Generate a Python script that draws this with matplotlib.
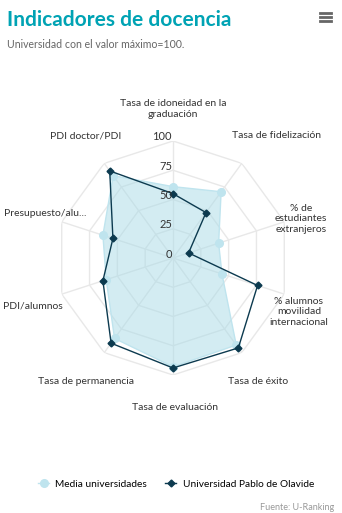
import numpy as np
import matplotlib.pyplot as plt
from matplotlib.lines import Line2D
from matplotlib.transforms import offset_copy

# Datos del grafico radar
categorias = ['Tasa de idoneidad en la\ngraduación', 'Tasa de fidelización',
              '% de\nestudiantes\nextranjeros', '% alumnos\nmovilidad\ninternacional',
              'Tasa de éxito', 'Tasa de evaluación', 'Tasa de permanencia',
              'PDI/alumnos', 'Presupuesto/alu...', 'PDI doctor/PDI']
media = [61, 70, 41, 44, 92, 93, 85, 60, 63, 87]
olavide = [55, 48, 14, 76, 95, 94, 90, 63, 54, 92]
niveles = [0, 25, 50, 75, 100]

# posiciones de las etiquetas (pixeles)
pos_etiquetas = [(173, 109), (276, 136), (301, 219), (299, 312), (258, 381),
                 (175, 408), (86, 381), (33, 306), (45, 213), (86, 136)]

W, H = 342, 513
fig = plt.figure(figsize=(W / 100, H / 100), dpi=100)
fuente = 'Lato'

cx, cy, R = 173, 258, 117
ax = fig.add_axes([(cx - R) / W, (H - cy - R) / H, 2 * R / W, 2 * R / H], projection='polar')
ax.set_theta_zero_location('N')
ax.set_theta_direction(-1)
ax.set_ylim(0, 100)
ax.grid(False)
ax.spines['polar'].set_visible(False)
ax.set_xticks([])
ax.set_yticks([])
ax.patch.set_alpha(0)

n = len(categorias)
theta = np.linspace(0, 2 * np.pi, n, endpoint=False)
theta_c = np.append(theta, theta[0])

# rejilla poligonal
gris = '#e8e8e8'
for r in niveles[1:]:
    ax.plot(theta_c, [r] * (n + 1), color=gris, lw=1, zorder=1)
for t in theta:
    ax.plot([t, t], [0, 100], color=gris, lw=1, zorder=1)

# series
claro = '#bfe4ee'
oscuro = '#0c3a4f'
m = np.append(media, media[0])
o = np.append(olavide, olavide[0])
ax.fill(theta_c, m, color='#a9dbe7', alpha=0.5, lw=0, zorder=2)
ax.plot(theta_c, m, color=claro, lw=1, zorder=3)
ax.plot(theta, media, 'o', color=claro, ms=5.5, zorder=3)
ax.plot(theta_c, o, color=oscuro, lw=1, zorder=4)
ax.plot(theta, olavide, 'D', color=oscuro, ms=3.5, zorder=5)

# etiquetas del eje radial
tr = offset_copy(ax.transData, fig=fig, x=-1, y=4, units='dots')
for r in niveles:
    ax.text(0, r, str(r), transform=tr, ha='right', va='center',
            fontsize=8, color='#333333', family=fuente, zorder=6)

# etiquetas de categorias
for lab, (x, y) in zip(categorias, pos_etiquetas):
    fig.text(x / W, 1 - y / H, lab, ha='center', va='center', fontsize=7.5,
             color='#333333', family=fuente, linespacing=1.25)

# titulo y subtitulo
fig.text(7 / W, 1 - 20 / H, 'Indicadores de docencia', fontsize=15, fontweight='bold',
         color='#00a3b4', family=fuente, va='center')
fig.text(7 / W, 1 - 45 / H, 'Universidad con el valor máximo=100.', fontsize=7.6,
         color='#666666', family=fuente, va='center')

# icono de menu
for yy in (13, 17, 21):
    fig.add_artist(Line2D([320 / W, 331 / W], [1 - yy / H] * 2, color='#666666', lw=2))

# leyenda
h1 = Line2D([], [], color=claro, lw=1, marker='o', ms=5.5)
h2 = Line2D([], [], color=oscuro, lw=1, marker='D', ms=3.5)
fig.legend([h1, h2], ['Media universidades', 'Universidad Pablo de Olavide'],
           loc='center', bbox_to_anchor=(176 / W, 1 - 484 / H), ncol=2, frameon=False,
           prop={'family': fuente, 'size': 7.3}, handlelength=1.1, handletextpad=0.6,
           columnspacing=1.8)

fig.text(334 / W, 1 - 508 / H, 'Fuente: U-Ranking', ha='right', va='center',
         fontsize=6.5, color='#999999', family=fuente)

fig.savefig('out.png', dpi=100)
